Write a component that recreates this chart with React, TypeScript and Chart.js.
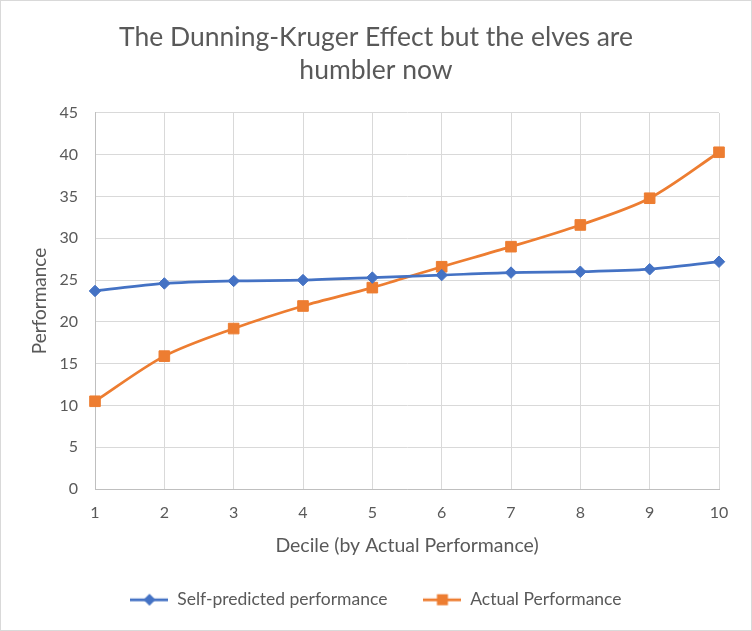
import React, { useEffect, useRef } from "react";
import { Chart, registerables } from "chart.js";

Chart.register(...registerables);

const deciles = ["1", "2", "3", "4", "5", "6", "7", "8", "9", "10"];
const selfPredicted = [23.7, 24.6, 24.9, 25.0, 25.3, 25.6, 25.9, 26.0, 26.3, 27.2];
const actualPerformance = [10.5, 15.9, 19.2, 21.9, 24.1, 26.6, 29.0, 31.6, 34.8, 40.3];
const seriesNames = ["Self-predicted performance", "Actual Performance"];
const titleLines = ["The Dunning-Kruger Effect but the elves are", "humbler now"];
const xAxisTitle = "Decile (by Actual Performance)";
const yAxisTitle = "Performance";
const yMin = 0;
const yMax = 45;
const yStep = 5;

const BLUE = "#4472C4";
const ORANGE = "#ED7D31";
const TEXT = "#595959";
const GRID = "#d9d9d9";
const AXIS = "#bfbfbf";
const FONT = "Lato, 'Open Sans', sans-serif";

function legendIcon(color: string, marker: "diamond" | "square"): HTMLCanvasElement {
  const c = document.createElement("canvas");
  c.width = 38;
  c.height = 14;
  const ctx = c.getContext("2d")!;
  ctx.strokeStyle = color;
  ctx.lineWidth = 2.75;
  ctx.beginPath();
  ctx.moveTo(0, 7);
  ctx.lineTo(38, 7);
  ctx.stroke();
  ctx.fillStyle = color;
  ctx.beginPath();
  if (marker === "diamond") {
    ctx.moveTo(19 - 6, 7);
    ctx.lineTo(19, 1);
    ctx.lineTo(19 + 6, 7);
    ctx.lineTo(19, 13);
    ctx.closePath();
  } else {
    ctx.rect(19 - 5.5, 7 - 5.5, 11, 11);
  }
  ctx.fill();
  return c;
}

export default function App() {
  const ref = useRef<HTMLCanvasElement | null>(null);

  useEffect(() => {
    document.body.style.margin = "0";
    const icons = [legendIcon(BLUE, "diamond"), legendIcon(ORANGE, "square")];
    const chart = new Chart(ref.current!, {
      type: "line",
      data: {
        labels: deciles,
        datasets: [
          {
            label: seriesNames[0],
            data: selfPredicted,
            borderColor: BLUE,
            backgroundColor: BLUE,
            borderWidth: 2.75,
            pointStyle: "rectRot",
            pointRadius: 5.75,
            pointBorderWidth: 1,
            tension: 0.3,
            fill: false,
          },
          {
            label: seriesNames[1],
            data: actualPerformance,
            borderColor: ORANGE,
            backgroundColor: ORANGE,
            borderWidth: 2.75,
            pointStyle: "rect",
            pointRadius: 7.5,
            pointBorderWidth: 1,
            tension: 0.3,
            fill: false,
          },
        ],
      },
      options: {
        animation: false,
        responsive: true,
        maintainAspectRatio: false,
        layout: { padding: { left: 0, right: 0, top: 0, bottom: 11.5 } },
        plugins: {
          tooltip: { enabled: false },
          title: {
            display: true,
            text: titleLines,
            color: TEXT,
            font: { family: FONT, size: 26.5, weight: "normal", lineHeight: 1.245 },
            padding: { top: 19.5, bottom: 26.5 },
          },
          legend: {
            display: true,
            position: "bottom",
            labels: {
              color: TEXT,
              font: { family: FONT, size: 17.5 },
              usePointStyle: true,
              pointStyleWidth: 38,
              padding: 36,
              generateLabels: (c: any) =>
                Chart.defaults.plugins.legend.labels
                  .generateLabels(c)
                  .map((l: any, i: number) => ({ ...l, pointStyle: icons[i] })),
            },
          },
        },
        scales: {
          x: {
            type: "category",
            offset: false,
            grid: { color: GRID, lineWidth: 1, drawTicks: false },
            border: { color: AXIS, width: 1 },
            ticks: { color: TEXT, font: { family: FONT, size: 16 }, padding: 14, maxRotation: 0 },
            title: {
              display: true,
              text: xAxisTitle,
              color: TEXT,
              font: { family: FONT, size: 19.5, lineHeight: 1 },
              padding: { top: 0, bottom: 0 },
            },
            afterFit: (s: any) => {
              s.height = 66;
            },
          },
          y: {
            min: yMin,
            max: yMax,
            grid: { color: GRID, lineWidth: 1, drawTicks: false },
            border: { color: AXIS, width: 1 },
            ticks: { stepSize: yStep, color: TEXT, font: { family: FONT, size: 16 }, padding: 17 },
            title: {
              display: true,
              text: yAxisTitle,
              color: TEXT,
              font: { family: FONT, size: 19, lineHeight: 1.2 },
              padding: { top: 27.6, bottom: 0 },
            },
            afterFit: (s: any) => {
              s.width = 94;
            },
          },
          yRight: {
            position: "right",
            display: true,
            grid: { display: false, drawTicks: false },
            border: { display: false },
            ticks: { display: false },
            afterFit: (s: any) => {
              s.width = 32;
            },
          },
        },
      },
    });
    return () => chart.destroy();
  }, []);

  return (
    <div
      style={{
        position: "absolute",
        left: 0,
        top: 0,
        width: 752,
        height: 631,
        boxSizing: "border-box",
        border: "1px solid #d9d9d9",
        background: "#ffffff",
      }}
    >
      <canvas ref={ref} style={{ width: "100%", height: "100%" }} />
    </div>
  );
}
